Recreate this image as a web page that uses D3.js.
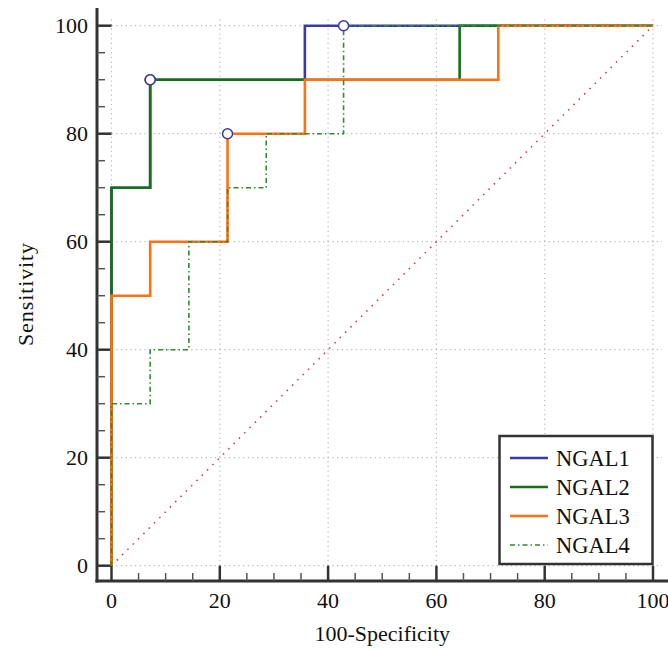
<!DOCTYPE html>
<html>
<head>
<meta charset="utf-8">
<script src="https://cdn.jsdelivr.net/npm/d3@7"></script>
<style>
html,body{margin:0;padding:0;background:#fff;}
svg{display:block;}
text{font-family:"Liberation Serif","Times New Roman",serif;fill:#111;}
</style>
</head>
<body>
<svg id="chart" width="668" height="651"></svg>
<script>
const seriesNames = ["NGAL1", "NGAL2", "NGAL3", "NGAL4"];
const seriesColors = ["#3a3aa6", "#177017", "#ff7214", "#2e8b2e"];
// ROC step points: [100-Specificity, Sensitivity]
const ngal1 = [[0,0],[0,70],[7.14,70],[7.14,90],[35.71,90],[35.71,100],[100,100]];
const ngal2 = [[0,0],[0,70],[7.14,70],[7.14,90],[64.29,90],[64.29,100],[100,100]];
const ngal3 = [[0,0],[0,50],[7.14,50],[7.14,60],[21.43,60],[21.43,80],[35.71,80],[35.71,90],[71.43,90],[71.43,100],[100,100]];
const ngal4 = [[0,0],[0,30],[7.14,30],[7.14,40],[14.29,40],[14.29,60],[21.43,60],[21.43,70],[28.57,70],[28.57,80],[42.86,80],[42.86,100],[100,100]];
const criterionPoints = [[7.14,90],[7.14,90],[21.43,80],[42.86,100]];
const majorTicks = [0,20,40,60,80,100];
const minorTicks = [5,10,15,25,30,35,45,50,55,65,70,75,85,90,95];
const xTitle = "100-Specificity";
const yTitle = "Sensitivity";

const svg = d3.select("#chart");
const x = d3.scaleLinear().domain([0,100]).range([111.5,653]);
const y = d3.scaleLinear().domain([0,100]).range([565.7,25.7]);
const axisX = 97, axisY = 581;

// grid
const grid = svg.append("g").attr("stroke","#b8b8b8").attr("stroke-width",1.2).attr("stroke-dasharray","1.2,3.5");
majorTicks.forEach(t=>{
  grid.append("line").attr("x1",x(t)).attr("x2",x(t)).attr("y1",y(0)).attr("y2",18);
  grid.append("line").attr("x1",x(0)).attr("x2",662).attr("y1",y(t)).attr("y2",y(t));
});

// diagonal
svg.append("line").attr("x1",x(0)).attr("y1",y(0)).attr("x2",x(100)).attr("y2",y(100))
  .attr("stroke","#c8383c").attr("stroke-width",1.5).attr("stroke-dasharray","1.5,6");

// axes
const ax = svg.append("g").attr("stroke","#333").attr("fill","none");
ax.append("line").attr("x1",axisX).attr("x2",axisX).attr("y1",8).attr("y2",axisY+1.5).attr("stroke-width",3);
ax.append("line").attr("x1",axisX-1.5).attr("x2",668).attr("y1",axisY).attr("y2",axisY).attr("stroke-width",3);
majorTicks.forEach(t=>{
  ax.append("line").attr("x1",axisX).attr("x2",x(0)).attr("y1",y(t)).attr("y2",y(t)).attr("stroke-width",2.5);
  ax.append("line").attr("x1",x(t)).attr("x2",x(t)).attr("y1",axisY).attr("y2",y(0)).attr("stroke-width",2.5);
});
minorTicks.forEach(t=>{
  ax.append("line").attr("x1",axisX).attr("x2",axisX+8).attr("y1",y(t)).attr("y2",y(t)).attr("stroke-width",1.5).attr("stroke","#555");
  ax.append("line").attr("x1",x(t)).attr("x2",x(t)).attr("y1",axisY).attr("y2",axisY-8).attr("stroke-width",1.5).attr("stroke","#555");
});

// tick labels
majorTicks.forEach(t=>{
  svg.append("text").attr("x",88).attr("y",y(t)).attr("dy","0.35em").attr("text-anchor","end")
    .attr("font-size",22).text(t);
  svg.append("text").attr("x",x(t)).attr("y",608).attr("text-anchor","middle")
    .attr("font-size",22).text(t);
});

svg.append("text").attr("x",(x(0)+x(100))/2).attr("y",641).attr("text-anchor","middle")
  .attr("font-size",22).text(xTitle);
svg.append("text").attr("transform","translate(33,294) rotate(-90)").attr("text-anchor","middle")
  .attr("font-size",22).attr("letter-spacing","0.9px").text(yTitle);

// series
const line = d3.line().x(d=>x(d[0])).y(d=>y(d[1]));
const allSeries = [ngal1, ngal2, ngal3, ngal4];
allSeries.forEach((s,i)=>{
  const p = svg.append("path").datum(s).attr("d",line).attr("fill","none")
    .attr("stroke",seriesColors[i]).attr("stroke-width", i===3 ? 1.6 : 2.6)
    .attr("stroke-linejoin","miter");
  if(i===3) p.attr("stroke-dasharray","5,3,1.5,3");
});

// criterion markers
svg.selectAll("circle.crit").data(criterionPoints).enter().append("circle")
  .attr("cx",d=>x(d[0])).attr("cy",d=>y(d[1])).attr("r",5)
  .attr("fill","#fff").attr("stroke","#3a3aa6").attr("stroke-width",1.5);

// legend
const lg = svg.append("g");
lg.append("rect").attr("x",499.5).attr("y",436).attr("width",153).attr("height",128)
  .attr("fill","#fff").attr("stroke","#333").attr("stroke-width",2.5);
seriesNames.forEach((n,i)=>{
  const yy = 458 + i*29;
  const l = lg.append("line").attr("x1",510).attr("x2",548).attr("y1",yy).attr("y2",yy)
    .attr("stroke",seriesColors[i]).attr("stroke-width", i===3 ? 1.6 : 2.6);
  if(i===3) l.attr("stroke-dasharray","5,3,1.5,3");
  lg.append("text").attr("x",556).attr("y",yy).attr("dy","0.35em").attr("font-size",22.5).text(n);
});
</script>
</body>
</html>
